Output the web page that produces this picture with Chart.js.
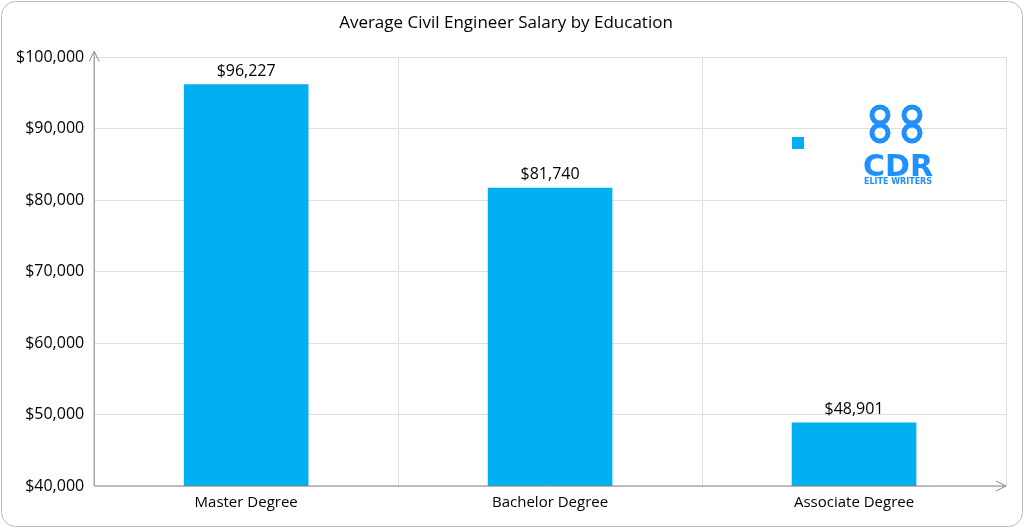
<!DOCTYPE html>
<html><head><meta charset="utf-8">
<script src="https://cdn.jsdelivr.net/npm/chart.js@4"></script>
<style>html,body{margin:0;padding:0;background:#fff}#wrap{width:1024px;height:528px;position:relative}</style>
</head><body><div id="wrap"><canvas id="c" width="1024" height="528"></canvas></div>
<script>
const categories=["Master Degree","Bachelor Degree","Associate Degree"];
const salaries=[96227,81740,48901];
const yTicks=[40000,50000,60000,70000,80000,90000,100000];
const fmt=v=>"$"+v.toLocaleString("en-US");
const deco={id:"deco",
 beforeDraw(c){const x=c.ctx;x.save();x.strokeStyle="#bbb";x.lineWidth=1;
  x.beginPath();x.roundRect(1.5,1.5,1021,525,14);x.stroke();x.restore();},
 afterDraw(c){const x=c.ctx,a=c.chartArea;x.save();x.strokeStyle="#888";x.lineWidth=1;
  x.beginPath();x.moveTo(a.left,a.bottom);x.lineTo(a.left,a.top-6);x.moveTo(a.left-5,a.top+4);x.lineTo(a.left,a.top-6);x.lineTo(a.left+5,a.top+4);
  x.moveTo(a.left,a.bottom);x.lineTo(a.right,a.bottom);x.moveTo(a.right-10,a.bottom-5);x.lineTo(a.right,a.bottom);x.lineTo(a.right-10,a.bottom+5);x.stroke();
  const m=c.getDatasetMeta(0);x.fillStyle="#000";x.font="16px 'Open Sans', sans-serif";x.textAlign="center";x.textBaseline="bottom";
  m.data.forEach((b,i)=>x.fillText(fmt(salaries[i]),b.x,b.y-5));
  x.fillStyle="#00B0F0";x.fillRect(792,137,12,12);
  x.strokeStyle="#1E90FF";x.lineWidth=5;
  for(const [cx,cy] of [[880,115],[912,115],[880,133],[912,133]]){x.beginPath();x.arc(cx,cy,8,0,Math.PI*2);x.stroke();}
  x.fillStyle="#1E90FF";x.font="bold 30px 'DejaVu Sans', sans-serif";x.textBaseline="alphabetic";x.fillText("CDR",898,176);
  x.font="bold 8px 'DejaVu Sans', sans-serif";x.fillText("ELITE WRITERS",898,184);
  x.restore();}};
new Chart(document.getElementById("c"),{type:"bar",
 data:{labels:categories,datasets:[{data:salaries,backgroundColor:"#00B0F0",categoryPercentage:1,barPercentage:0.41}]},
 options:{responsive:false,animation:false,
  layout:{padding:{left:6,right:18,top:13,bottom:8}},
  plugins:{legend:{display:false},tooltip:{enabled:false},
   title:{display:true,text:"Average Civil Engineer Salary by Education",color:"#000",font:{size:17,family:"'Open Sans', sans-serif",weight:"normal"},padding:{top:0,bottom:24}}},
  scales:{x:{grid:{color:"#e0e0e0",offset:true,drawTicks:false},border:{display:false},
    ticks:{color:"#000",font:{size:15,family:"'Open Sans', sans-serif"},padding:8}},
   y:{min:40000,max:100000,afterBuildTicks:ax=>{ax.ticks=yTicks.map(v=>({value:v}))},
    grid:{color:"#e0e0e0",drawTicks:false},border:{display:false},
    ticks:{color:"#000",font:{size:16,family:"'Open Sans', sans-serif"},padding:10,callback:v=>fmt(v)}}}},
 plugins:[deco]});
</script></body></html>
